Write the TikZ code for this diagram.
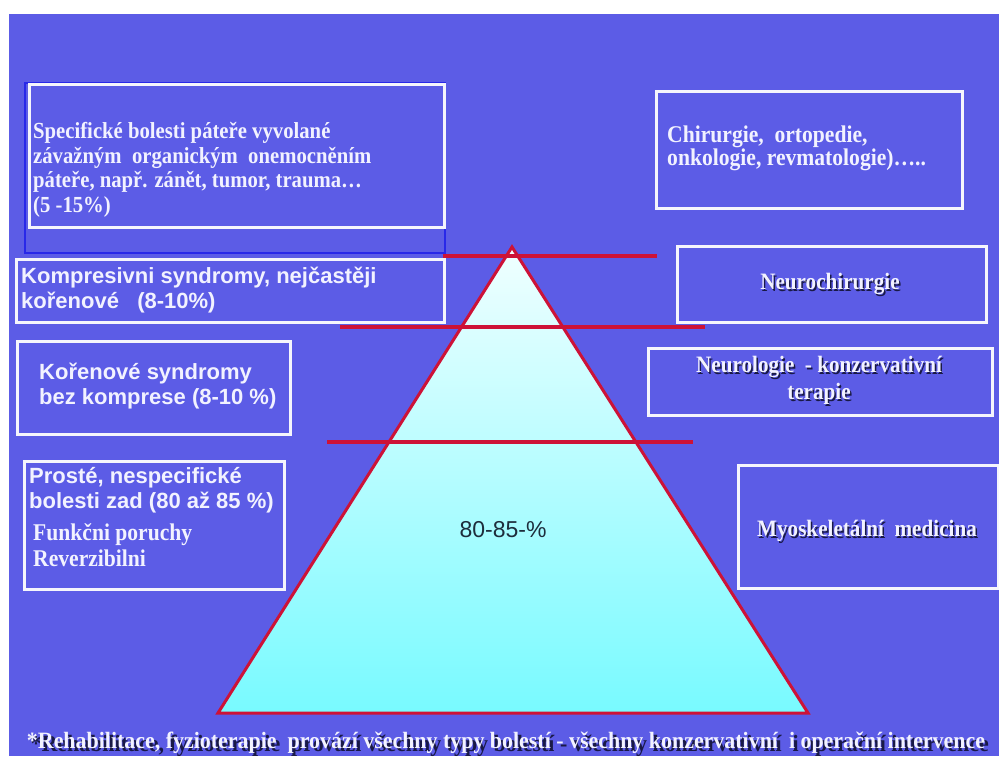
\documentclass[tikz,border=0pt]{standalone}
\usepackage{fontspec}
\setmainfont{Liberation Serif}
\setsansfont{Liberation Sans}
\newfontfamily\tallserif[FakeStretch=0.9]{Liberation Serif}
\usepackage{graphicx}
\definecolor{bgc}{RGB}{92,92,230}
\definecolor{txtc}{RGB}{242,242,255}
\definecolor{boxc}{RGB}{245,245,252}
\definecolor{redc}{RGB}{205,18,55}
\definecolor{pyrtop}{RGB}{240,255,255}
\definecolor{pyrbot}{RGB}{120,250,255}
\definecolor{shadowc}{RGB}{25,25,70}
\definecolor{ctc}{RGB}{30,45,60}
\definecolor{faintc}{RGB}{40,40,232}
\newcommand\shd[1]{\leavevmode\rlap{\hspace{1.5pt}\raisebox{-1.5pt}{\color{shadowc}#1}}#1}
\tikzset{
  panel/.style={draw=boxc, line width=2.6pt, rectangle, inner sep=0pt, anchor=north west},
  serift/.style={font=\tallserif\fontsize{23}{24.5}\selectfont\bfseries, text=txtc, align=left, inner sep=0pt},
  sanst/.style={font=\fontsize{22}{25}\selectfont\sffamily\bfseries, text=txtc, align=left, inner sep=0pt},
  redline/.style={draw=redc, line width=3.2pt},
}
\begin{document}
\begin{tikzpicture}[x=1pt,y=-1pt]
\useasboundingbox (0,0) rectangle (999,756);
\fill[white] (0,0) rectangle (999,756);
\fill[bgc] (9,14) rectangle (999,756);

% faint outline behind first box
\draw[faintc, line width=1.5pt] (25,83) rectangle (445,253);

% pyramid
\coordinate (apex) at (512,247);
\coordinate (bl) at (218,713);
\coordinate (br) at (808,713);
\shade[top color=pyrtop, bottom color=pyrbot] (apex) -- (br) -- (bl) -- cycle;
\draw[redc, line width=3pt, line join=miter] (apex) -- (br) -- (bl) -- cycle;

% red level lines
\coordinate (l1a) at (443,256); \coordinate (l1b) at (657,256);
\coordinate (l2a) at (340,327); \coordinate (l2b) at (705,327);
\coordinate (l3a) at (327,442); \coordinate (l3b) at (693,442);
\draw[redline] (l1a) -- (l1b);
\draw[redline] (l2a) -- (l2b);
\draw[redline] (l3a) -- (l3b);

% boxes
\node[panel, minimum width=415pt, minimum height=143pt] (b1) at (28,83) {};
\node[panel, minimum width=428pt, minimum height=63pt] (b2) at (15,258) {};
\node[panel, minimum width=273pt, minimum height=93pt] (b3) at (16,340) {};
\node[panel, minimum width=260pt, minimum height=128pt] (b4) at (23,460) {};
\node[panel, minimum width=306pt, minimum height=117pt] (r1) at (655,90) {};
\node[panel, minimum width=309pt, minimum height=76pt] (r2) at (676,245) {};
\node[panel, minimum width=344pt, minimum height=67pt] (r3) at (647,347) {};
\node[panel, minimum width=260pt, minimum height=123pt] (r4) at (737,464) {};

% left texts
\node[serift, anchor=west] (t1) at (33,170) {Specifické bolesti páteře vyvolané\\závažným\ \ organickým\ \ onemocněním\\páteře, např. zánět, tumor, trauma…\\(5 -15\%)};
\node[sanst, anchor=west] (t2) at (21,290.5) {Kompresivni syndromy, nejčastěji\\kořenové\ \ \ (8-10\%)};
\node[sanst, anchor=west] (t3) at (39,386.5) {Kořenové syndromy\\bez komprese (8-10 \%)};
\node[sanst, anchor=west] (t4) at (29,490.5) {Prosté, nespecifické\\bolesti zad (80 až 85 \%)};
\node[serift, anchor=west, font=\tallserif\fontsize{24}{26}\selectfont\bfseries] (t5) at (33,545) {Funkčni poruchy\\Reverzibilni};

% right texts
\node[serift, anchor=west, font=\tallserif\fontsize{24}{23.5}\selectfont\bfseries] (t6) at (667,148.5) {Chirurgie,\ \ ortopedie,\\onkologie, revmatologie)…..};
\node[serift, align=center, font=\tallserif\fontsize{23.5}{27}\selectfont\bfseries] (t7) at (830,285) {\shd{Neurochirurgie}};
\node[serift, align=center, font=\tallserif\fontsize{23.5}{27}\selectfont\bfseries] (t8) at (819,381.5) {\shd{Neurologie\ \ - konzervativní}\\\shd{terapie}};
\node[serift, align=center, font=\tallserif\fontsize{23.5}{27}\selectfont\bfseries] (t9) at (867,532) {\shd{Myoskeletální\ \ medicina}};

% centre percentage
\node[font=\fontsize{23}{26}\selectfont\sffamily, text=ctc, inner sep=0pt] (pct) at (503,530) {80-85-\%};

% bottom note
\node[serift, anchor=base, font=\tallserif\bfseries] (note) at (506,748) {\resizebox{958pt}{16.5pt}{\shd{*Rehabilitace, fyzioterapie\ \ provází všechny typy bolestí - všechny konzervativní\ \ i operační intervence}}};
\end{tikzpicture}
\end{document}
